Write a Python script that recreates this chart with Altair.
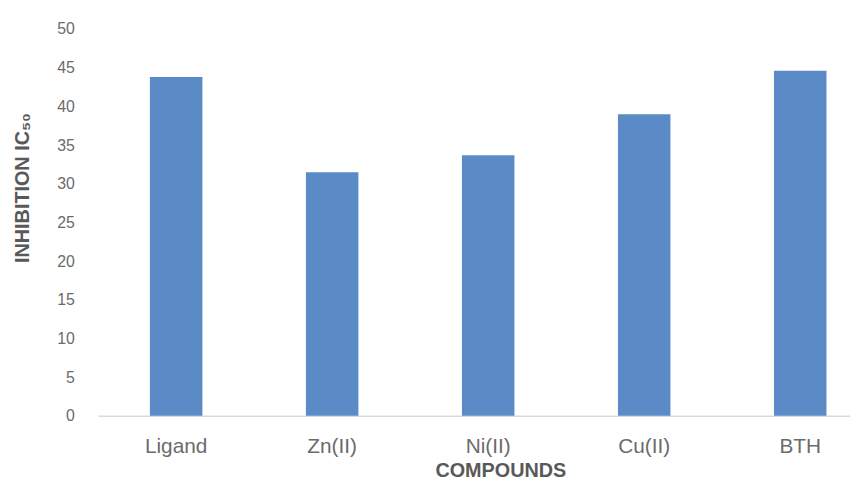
import altair as alt
import pandas as pd

compounds = ["Ligand", "Zn(II)", "Ni(II)", "Cu(II)", "BTH"]
ic50 = [43.8, 31.5, 33.7, 39.0, 44.6]
y_ticks = [0, 5, 10, 15, 20, 25, 30, 35, 40, 45, 50]

df = pd.DataFrame({"compound": compounds, "ic50": ic50})

FONT = "Liberation Sans"

chart = alt.Chart(df).mark_bar(size=53, color="#5b8bc6").encode(
    x=alt.X(
        "compound:N",
        sort=compounds,
        scale=alt.Scale(range=[0, 787.5], paddingInner=0, paddingOuter=0),
        axis=alt.Axis(
            title="COMPOUNDS",
            titleFont=FONT,
            titleFontSize=20,
            titleFontWeight="bold",
            titleColor="#595959",
            titleX=406,
            titleY=61,
            titleBaseline="alphabetic",
            labelFont=FONT,
            labelFontSize=21,
            labelColor="#6b6b6b",
            labelPadding=20,
            labelAngle=0,
            ticks=False,
            domainColor="#d9d9d9",
            domainWidth=1.5,
        ),
    ),
    y=alt.Y(
        "ic50:Q",
        scale=alt.Scale(domain=[0, 50], nice=False),
        axis=alt.Axis(
            title="INHIBITION IC₅₀",
            titleFont=FONT,
            titleFontSize=20,
            titleFontWeight="bold",
            titleColor="#595959",
            titleX=-70,
            titleY=160,
            titleAngle=270,
            titleAlign="center",
            titleBaseline="alphabetic",
            values=y_ticks,
            labelFont=FONT,
            labelFontSize=16,
            labelColor="#6b6b6b",
            labelPadding=24,
            ticks=False,
            domain=False,
            grid=False,
        ),
    ),
).properties(
    width=759,
    height=390.5,
    background="white",
    autosize=alt.AutoSizeParams(type="none"),
    padding={"left": 91, "top": 19, "right": 0, "bottom": 62},
).configure_view(stroke=None)

chart.save("out.html", embed_options={"renderer": "svg", "actions": False})
